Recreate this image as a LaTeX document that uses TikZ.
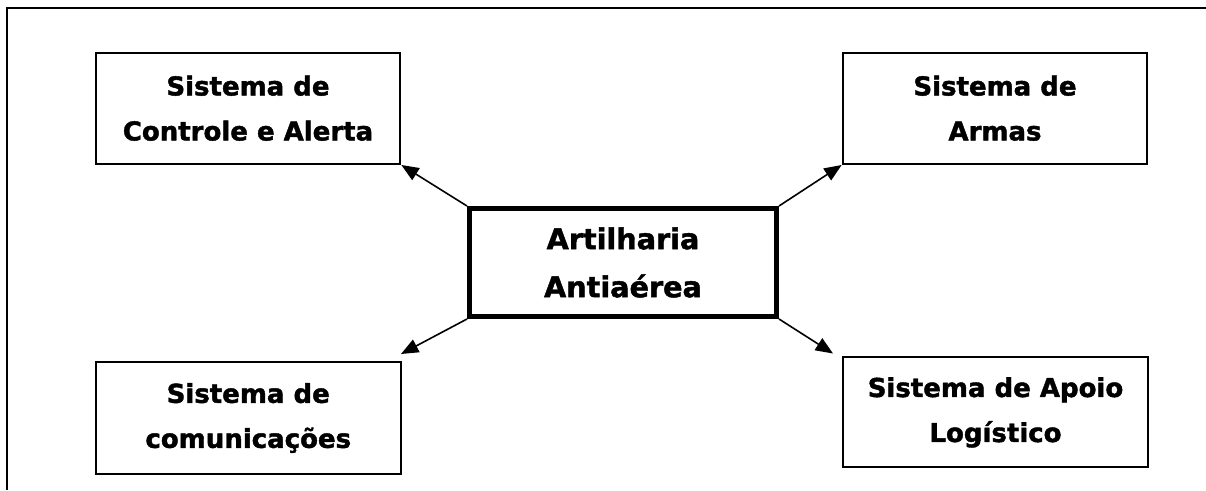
\documentclass[tikz,border=0pt]{standalone}
\usepackage{fontspec}
\setmainfont{DejaVu Sans}
\newfontfamily\heavy[FakeBold=1.6]{DejaVu Sans}
\usetikzlibrary{arrows.meta}
\tikzset{
  sysbox/.style={draw=black, line width=1.5pt, fill=white, inner sep=0pt, align=center,
    minimum width=228.5pt, minimum height=83.6pt,
    font=\heavy\bfseries\fontsize{19.5}{33.75}\selectfont},
  mainbox/.style={draw=black, line width=3.75pt, fill=white, inner sep=0pt, align=center,
    minimum width=230.25pt, minimum height=81pt,
    font=\heavy\bfseries\fontsize{21.5}{36}\selectfont},
  link/.style={line width=1.2pt, -{Triangle[length=13pt,width=10.5pt]}},
  frame/.style={line width=1.9pt}
}
\begin{document}
\begin{tikzpicture}[x=0.75pt,y=-0.75pt]
\useasboundingbox (0,0) rectangle (1206,490);
\coordinate (f1) at (7,490);
\coordinate (f2) at (7,8);
\coordinate (f3) at (1206,8);
\draw[frame] (f1) -- (f2) -- (f3);

\node[mainbox] (c) at (623,262.5) {Artilharia\\Antiaérea};
\node[sysbox] (tl) at (248,108.25) {Sistema de\\Controle e Alerta};
\node[sysbox] (tr) at (995,108.25) {Sistema de\\Armas};
\node[sysbox, minimum height=84pt] (bl) at (248.25,418) {Sistema de\\comunicações};
\node[sysbox, minimum height=82.5pt] (br) at (995.5,412.4) {Sistema de Apoio\\Logístico};

\coordinate (blt) at (401,354);
\coordinate (brt) at (833,353.5);

\draw[link] (c.north west) -- (tl.south east);
\draw[link] (c.north east) -- (tr.south west);
\draw[link] (c.south west) -- (blt);
\draw[link] (c.south east) -- (brt);
\end{tikzpicture}
\end{document}
